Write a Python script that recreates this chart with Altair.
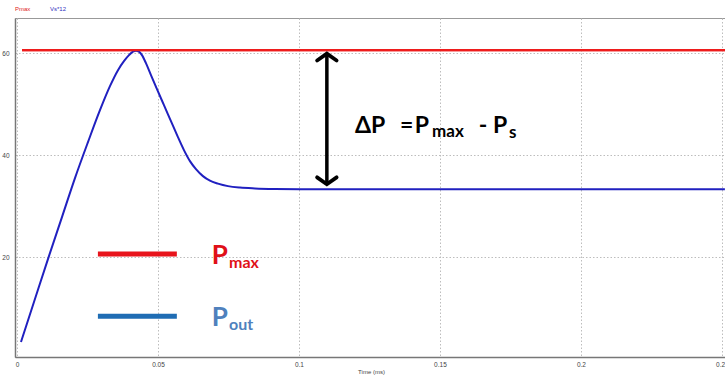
import altair as alt
import pandas as pd

# Blue curve (Vs*12): time (ms) and value
t_vals = [0.00142, 0.00603, 0.01099, 0.01596, 0.02057, 0.02518, 0.02943, 0.03298, 0.03582,
          0.03794, 0.03972, 0.04113, 0.04220, 0.04326, 0.04433, 0.04574, 0.04752, 0.04965,
          0.05213, 0.05461, 0.05709, 0.05922, 0.06135, 0.06348, 0.06596, 0.06844, 0.07128,
          0.07482, 0.07908, 0.08440, 0.09149, 0.10035, 0.25106]
vs_vals = [3.33, 11.18, 19.61, 27.84, 35.49, 42.55, 48.82, 53.53, 56.67,
           58.43, 59.61, 60.29, 60.49, 60.29, 59.61, 58.04, 55.69, 52.94,
           49.80, 46.67, 43.53, 40.98, 38.82, 37.25, 35.88, 34.98, 34.41,
           33.92, 33.63, 33.47, 33.37, 33.33, 33.33]

pmax_t = [0.0018, 0.2511]
pmax_val = [60.6, 60.6]

x_ticks = [0, 0.05, 0.1, 0.15, 0.2, 0.25]
y_ticks = [20, 40, 60]
x_domain = [-0.0007, 0.2511]
y_domain = [0.4, 66.9]

RED = "#ee1c1c"
DBLUE = "#2020c0"

curve = pd.DataFrame({"t": t_vals, "v": vs_vals})
pmax = pd.DataFrame({"t": pmax_t, "v": pmax_val})

xs = alt.Scale(domain=x_domain, nice=False, zero=False)
ys = alt.Scale(domain=y_domain, nice=False, zero=False)

xenc = alt.X("t:Q", scale=xs, axis=alt.Axis(
    values=x_ticks, format="~g", title="Time (ms)", grid=True, ticks=False,
    labelFontSize=6.5, labelColor="#444", labelPadding=4,
    titleFontSize=6, titleFontWeight="normal", titleColor="#444",
    titleX=356, titleY=11, titleAlign="center", titleBaseline="top",
    domainColor="#777", domainWidth=1.5,
    gridColor="#bdbdbd", gridDash=[1.5, 2], gridWidth=1))
yenc = alt.Y("v:Q", scale=ys, axis=alt.Axis(
    values=y_ticks, title=None, grid=True, ticks=False,
    labelFontSize=6.5, labelColor="#444", labelPadding=6,
    domainColor="#777", domainWidth=1.5,
    gridColor="#bdbdbd", gridDash=[1.5, 2], gridWidth=1))

base_red = alt.Chart(pmax).mark_line(color=RED, strokeWidth=2.2).encode(x=xenc, y=yenc)
blue = alt.Chart(curve).mark_line(color=DBLUE, strokeWidth=2, interpolate="monotone").encode(
    x=alt.X("t:Q", scale=xs), y=alt.Y("v:Q", scale=ys))

# Arrow annotation
arrow_t = [0.1099]
arrow_top = [59.9]
arrow_bot = [34.3]
arr = pd.DataFrame({"t": arrow_t, "y1": arrow_top, "y2": arrow_bot})
arrow_line = alt.Chart(arr).mark_rule(color="black", strokeWidth=3.5).encode(
    x=alt.X("t:Q", scale=xs), y=alt.Y("y1:Q", scale=ys), y2="y2:Q")
head_up = alt.Chart(arr).mark_point(
    shape="M -1 0.7 L 0 0 L 1 0.7", filled=False, color="black", strokeWidth=3.8,
    size=380, opacity=1, strokeJoin="miter", strokeCap="round").encode(
    x=alt.X("t:Q", scale=xs), y=alt.Y("y1:Q", scale=ys))
head_dn = alt.Chart(arr).mark_point(
    shape="M -1 -0.7 L 0 0 L 1 -0.7", filled=False, color="black", strokeWidth=3.8,
    size=380, opacity=1, strokeJoin="miter", strokeCap="round").encode(
    x=alt.X("t:Q", scale=xs), y=alt.Y("y2:Q", scale=ys))

# Formula text pieces
f_text = ["ΔP", "=", "P", "max", "-", "P", "s"]
f_t = [0.1199, 0.1358, 0.1411, 0.1472, 0.1638, 0.1688, 0.1745]
f_v = [44.31, 44.31, 44.31, 43.53, 44.31, 44.31, 43.33]
f_size = [23, 23, 23, 17, 23, 23, 17]
formula = pd.DataFrame({"txt": f_text, "t": f_t, "v": f_v, "s": f_size})
formula_txt = alt.Chart(formula).mark_text(
    align="left", baseline="alphabetic", font="Lato", fontWeight="bold", color="black").encode(
    x=alt.X("t:Q", scale=xs), y=alt.Y("v:Q", scale=ys), text="txt:N",
    size=alt.Size("s:Q", scale=None, legend=None))

# In-plot legend bars
leg_t1 = [0.0287, 0.0287]
leg_t2 = [0.0567, 0.0567]
leg_v = [20.6, 8.4]
leg_col = ["#e8141c", "#1f6db4"]
legbars = pd.DataFrame({"t1": leg_t1, "t2": leg_t2, "v": leg_v, "c": leg_col})
leg_rules = alt.Chart(legbars).mark_rule(strokeWidth=5).encode(
    x=alt.X("t1:Q", scale=xs), x2="t2:Q", y=alt.Y("v:Q", scale=ys),
    color=alt.Color("c:N", scale=None))

lt_text = ["P", "max", "P", "out"]
lt_t = [0.0691, 0.0752, 0.0691, 0.0752]
lt_v = [18.6, 17.8, 6.5, 5.7]
lt_size = [26, 16, 26, 16]
lt_col = ["#e01018", "#e01018", "#4f81bd", "#4f81bd"]
legtext = pd.DataFrame({"txt": lt_text, "t": lt_t, "v": lt_v, "s": lt_size, "c": lt_col})
leg_txt = alt.Chart(legtext).mark_text(
    align="left", baseline="alphabetic", font="Lato", fontWeight="bold").encode(
    x=alt.X("t:Q", scale=xs), y=alt.Y("v:Q", scale=ys), text="txt:N",
    size=alt.Size("s:Q", scale=None, legend=None),
    color=alt.Color("c:N", scale=None))

# Top-left series legend
top_text = ["Pmax", "Vs*12"]
top_t = [-0.0007, 0.0117]
top_v = [68.2, 68.2]
top_col = ["#e02020", "#3030c0"]
toplab = pd.DataFrame({"txt": top_text, "t": top_t, "v": top_v, "c": top_col})
top_txt = alt.Chart(toplab).mark_text(
    align="left", baseline="alphabetic", font="Liberation Sans", fontSize=6).encode(
    x=alt.X("t:Q", scale=xs), y=alt.Y("v:Q", scale=ys), text="txt:N",
    color=alt.Color("c:N", scale=None))

chart = alt.layer(
    base_red, blue, base_red, arrow_line, head_up, head_dn, formula_txt,
    leg_rules, leg_txt, top_txt
).properties(
    width=710, height=339,
    autosize=alt.AutoSizeParams(type="none"),
    padding={"left": 15, "top": 18, "right": 0, "bottom": 21},
    background="white",
).configure_view(stroke="#999", strokeWidth=1).configure_axis(
    labelFont="Liberation Sans", titleFont="Liberation Sans")

chart.save("out.html", embed_options={"renderer": "svg", "actions": False})
